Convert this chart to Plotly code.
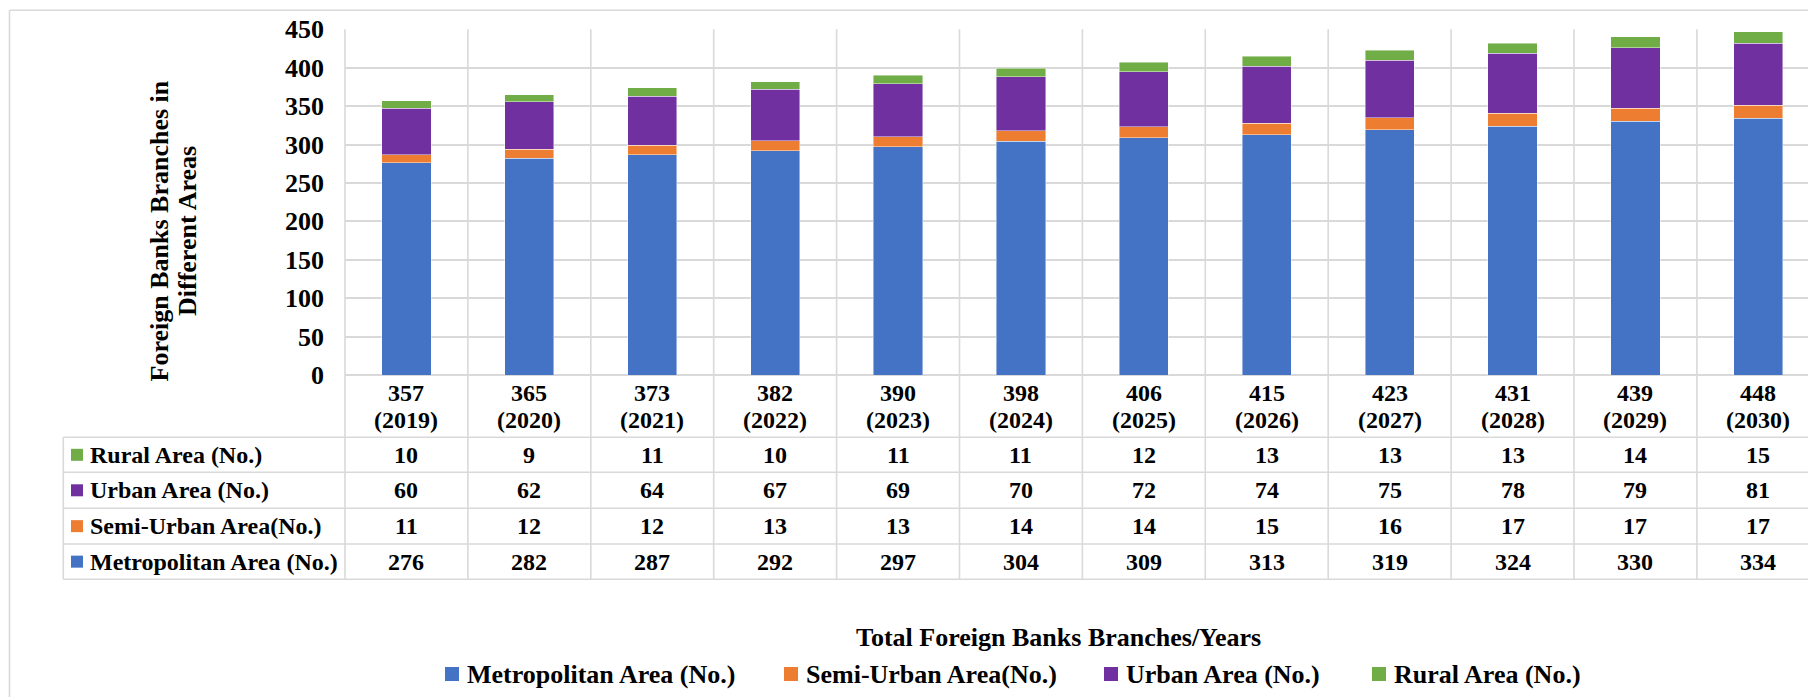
import plotly.graph_objects as go

# ---------------- data ----------------
years = [2019, 2020, 2021, 2022, 2023, 2024, 2025, 2026, 2027, 2028, 2029, 2030]
totals = [357, 365, 373, 382, 390, 398, 406, 415, 423, 431, 439, 448]
metropolitan = [276, 282, 287, 292, 297, 304, 309, 313, 319, 324, 330, 334]
semi_urban = [11, 12, 12, 13, 13, 14, 14, 15, 16, 17, 17, 17]
urban = [60, 62, 64, 67, 69, 70, 72, 74, 75, 78, 79, 81]
rural = [10, 9, 11, 10, 11, 11, 12, 13, 13, 13, 14, 15]

series_names = ["Metropolitan Area (No.)", "Semi-Urban Area(No.)", "Urban Area (No.)", "Rural Area (No.)"]
series_colors = ["#4472C4", "#ED7D31", "#7030A0", "#70AD47"]
y_tick_values = [0, 50, 100, 150, 200, 250, 300, 350, 400, 450]
y_title_lines = ["Foreign Banks Branches in", "Different Areas"]
x_title = "Total Foreign Banks Branches/Years"

# ---------------- layout constants (pixels) ----------------
W, H = 1808, 697
FONT = "Liberation Serif"
GRID = "#d9d9d9"
PLOT_L, PLOT_T, PLOT_B = 345, 29.3, 375
COL_W = 122.9
TABLE_L = 63.3
ROW_LINES = [437.3, 472.3, 508.3, 544.0, 579.3]
LEGEND_KEY_X = [445, 784, 1104, 1372]
LEGEND_Y = 674


def px_x(p):
    return p / W


def px_y(p):
    return 1 - p / H


series_values = [metropolitan, semi_urban, urban, rural]
n = len(years)
x_pos = list(range(n))
x_range = [-0.5, -0.5 + (W - PLOT_L) / COL_W]

fig = go.Figure()
for name, color, vals in zip(series_names, series_colors, series_values):
    fig.add_bar(
        x=x_pos, y=vals, name=name, width=0.4, showlegend=False,
        marker=dict(color=color, line=dict(color="rgba(255,255,255,0.55)", width=0.8)),
        hoverinfo="skip",
    )

shapes = []
line_style = dict(color=GRID, width=1.6)
# outer chart border (top and left visible)
shapes.append(dict(type="line", xref="paper", yref="paper", x0=px_x(9.5), x1=1, y0=px_y(10.3), y1=px_y(10.3), line=line_style))
shapes.append(dict(type="line", xref="paper", yref="paper", x0=px_x(9.5), x1=px_x(9.5), y0=px_y(10.3), y1=0, line=line_style))
# plot / table left edge
shapes.append(dict(type="line", xref="paper", yref="paper", x0=px_x(PLOT_L), x1=px_x(PLOT_L),
                   y0=px_y(PLOT_T), y1=px_y(ROW_LINES[-1]), line=line_style, layer="below"))
# category boundaries through plot and table
for k in range(n):
    shapes.append(dict(type="line", xref="x", yref="paper", x0=k + 0.5, x1=k + 0.5,
                       y0=px_y(PLOT_T), y1=px_y(ROW_LINES[-1]), line=line_style, layer="below"))
# table horizontal lines
for yl in ROW_LINES:
    shapes.append(dict(type="line", xref="paper", yref="paper", x0=px_x(TABLE_L), x1=1,
                       y0=px_y(yl), y1=px_y(yl), line=line_style))
# table left line
shapes.append(dict(type="line", xref="paper", yref="paper", x0=px_x(TABLE_L), x1=px_x(TABLE_L),
                   y0=px_y(ROW_LINES[0]), y1=px_y(ROW_LINES[-1]), line=line_style))

annotations = []
bold = dict(family=FONT, size=24, color="black", weight="bold")
# category label row
for i in range(n):
    annotations.append(dict(xref="x", yref="paper", x=x_pos[i], y=px_y(393), text=str(totals[i]),
                            showarrow=False, xanchor="center", yanchor="middle", font=bold))
    annotations.append(dict(xref="x", yref="paper", x=x_pos[i], y=px_y(420), text=f"({years[i]})",
                            showarrow=False, xanchor="center", yanchor="middle", font=bold))

# data table rows (top to bottom: Rural, Urban, Semi-Urban, Metropolitan)
row_order = [3, 2, 1, 0]
for r, s in enumerate(row_order):
    yc = (ROW_LINES[r] + ROW_LINES[r + 1]) / 2
    shapes.append(dict(type="rect", xref="paper", yref="paper", x0=px_x(71), x1=px_x(83),
                       y0=px_y(yc - 6), y1=px_y(yc + 6), fillcolor=series_colors[s], line=dict(width=0)))
    annotations.append(dict(xref="paper", yref="paper", x=px_x(88), y=px_y(yc), text=series_names[s],
                            showarrow=False, xanchor="left", yanchor="middle", font=bold))
    for i in range(n):
        annotations.append(dict(xref="x", yref="paper", x=x_pos[i], y=px_y(yc), text=str(series_values[s][i]),
                                showarrow=False, xanchor="center", yanchor="middle", font=bold))

title_font = dict(family=FONT, size=26, color="black", weight="bold")
# y-axis title (two lines)
for xc, line in zip([159, 187.5], y_title_lines):
    annotations.append(dict(xref="paper", yref="paper", x=px_x(xc), y=px_y(231.5), text=line, textangle=-90,
                            showarrow=False, xanchor="center", yanchor="middle", font=title_font))
# x-axis title
annotations.append(dict(xref="paper", yref="paper", x=px_x(1058), y=px_y(637), text=x_title,
                        showarrow=False, xanchor="center", yanchor="middle", font=title_font))

# bottom legend (key square + label for each series)
for kx, name, color in zip(LEGEND_KEY_X, series_names, series_colors):
    shapes.append(dict(type="rect", xref="paper", yref="paper", x0=px_x(kx), x1=px_x(kx + 14),
                       y0=px_y(LEGEND_Y + 7), y1=px_y(LEGEND_Y - 7), fillcolor=color, line=dict(width=0)))
    annotations.append(dict(xref="paper", yref="paper", x=px_x(kx + 19.5), y=px_y(LEGEND_Y), text=name,
                            showarrow=False, xanchor="left", yanchor="middle", font=title_font))

fig.update_layout(
    width=W, height=H,
    margin=dict(l=0, r=0, t=0, b=0, autoexpand=False),
    paper_bgcolor="white", plot_bgcolor="white",
    barmode="stack",
    showlegend=False,
    font=dict(family=FONT, size=24, color="black", weight="bold"),
    xaxis=dict(domain=[px_x(PLOT_L), 1], range=x_range, showticklabels=False, showgrid=False,
               zeroline=False, showline=False, fixedrange=True, automargin=False),
    yaxis=dict(domain=[px_y(PLOT_B), px_y(PLOT_T)], range=[0, 450], tickvals=y_tick_values,
               tickfont=dict(family=FONT, size=26, color="black", weight="bold"),
               showgrid=True, gridcolor=GRID, gridwidth=1.6,
               zeroline=True, zerolinecolor=GRID, zerolinewidth=1.6,
               showline=False, ticks="", ticklabelstandoff=20, fixedrange=True, automargin=False),
    shapes=shapes,
    annotations=annotations,
)

fig.write_html(
    "out.html",
    config={"displayModeBar": False},
    post_script="document.body.style.margin='0';document.body.style.overflow='hidden';",
)
